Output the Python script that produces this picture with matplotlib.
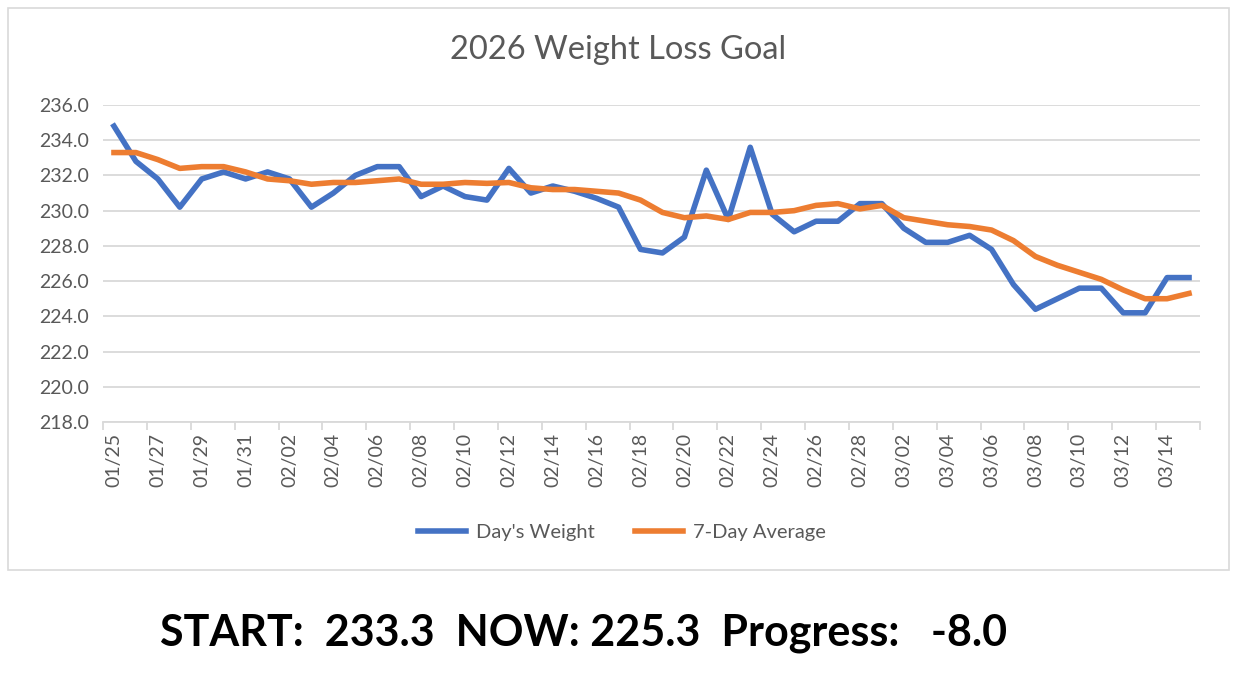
import matplotlib
matplotlib.use("Agg")
import matplotlib.pyplot as plt
from matplotlib import font_manager
from matplotlib.patches import Rectangle

dates = ["01/25","01/26","01/27","01/28","01/29","01/30","01/31",
         "02/01","02/02","02/03","02/04","02/05","02/06","02/07","02/08","02/09","02/10",
         "02/11","02/12","02/13","02/14","02/15","02/16","02/17","02/18","02/19","02/20",
         "02/21","02/22","02/23","02/24","02/25","02/26","02/27","02/28",
         "03/01","03/02","03/03","03/04","03/05","03/06","03/07","03/08","03/09","03/10",
         "03/11","03/12","03/13","03/14","03/15"]
days_weight = [234.8, 232.8, 231.8, 230.2, 231.8, 232.2, 231.8,
               232.2, 231.8, 230.2, 231.0, 232.0, 232.5, 232.5, 230.8, 231.4, 230.8,
               230.6, 232.4, 231.0, 231.4, 231.1, 230.7, 230.2, 227.8, 227.6, 228.5,
               232.3, 229.5, 233.6, 229.8, 228.8, 229.4, 229.4, 230.4,
               230.4, 229.0, 228.2, 228.2, 228.6, 227.8, 225.8, 224.4, 225.0, 225.6,
               225.6, 224.2, 224.2, 226.2, 226.2]
seven_day_avg = [233.3, 233.3, 232.9, 232.4, 232.5, 232.5, 232.2,
                 231.8, 231.7, 231.5, 231.6, 231.6, 231.7, 231.8, 231.5, 231.5, 231.6,
                 231.55, 231.6, 231.3, 231.2, 231.2, 231.1, 231.0, 230.6, 229.9, 229.6,
                 229.7, 229.5, 229.9, 229.9, 230.0, 230.3, 230.4, 230.1,
                 230.3, 229.6, 229.4, 229.2, 229.1, 228.9, 228.3, 227.4, 226.9, 226.5,
                 226.1, 225.5, 225.0, 225.0, 225.3]
y_ticks = [218.0, 220.0, 222.0, 224.0, 226.0, 228.0, 230.0, 232.0, 234.0, 236.0]
summary_text = "START:  233.3  NOW: 225.3  Progress:   -8.0"

avail = {f.name for f in font_manager.fontManager.ttflist}
base_font = "Lato" if "Lato" in avail else "DejaVu Sans"
plt.rcParams['font.family'] = [base_font, 'DejaVu Sans']

grey = "#595959"
grid_c = "#D9D9D9"

fig = plt.figure(figsize=(12.52, 6.85), dpi=100)
fig.patch.set_facecolor("white")
fig.patches.append(Rectangle((8/1252, 1-570/685), (1229-8)/1252, (570-8)/685,
                             transform=fig.transFigure, fill=False,
                             edgecolor=grid_c, linewidth=1.2))

ax = fig.add_axes([103/1252, 1-422/685, (1200-103)/1252, (422-105)/685])
x = list(range(len(dates)))
ax.plot(x, days_weight, color="#4472C4", lw=4.0, label="Day's Weight", solid_joinstyle="round")
ax.plot(x, seven_day_avg, color="#ED7D31", lw=4.0, label="7-Day Average", solid_joinstyle="round")

ax.set_xlim(-0.5, len(dates) - 0.5)
ax.set_ylim(218, 236)
ax.set_yticks(y_ticks)
ax.set_yticklabels([f"{v:.1f}" for v in y_ticks], color=grey, fontsize=14)
ax.tick_params(axis='y', length=0, pad=10)
ax.grid(axis='y', color=grid_c, lw=1.3)
ax.set_axisbelow(True)

ax.set_xticks([i for i in x if i % 2 == 0])
ax.set_xticklabels([dates[i] for i in x if i % 2 == 0], rotation=90, color=grey, fontsize=14)
ax.set_xticks([i - 0.5 for i in range(0, len(dates) + 1, 2)], minor=True)
ax.tick_params(axis='x', which='major', length=0, pad=8)
ax.tick_params(axis='x', which='minor', length=6, color=grid_c, width=1.3)

for s in ['top', 'right', 'left']:
    ax.spines[s].set_visible(False)
ax.spines['bottom'].set_color(grid_c)
ax.spines['bottom'].set_linewidth(1.3)

fig.text(618/1252, 1-50/685, "2026 Weight Loss Goal", color=grey, fontsize=23.5,
         ha='center', va='center')

fig.legend(loc='center', bbox_to_anchor=(622/1252, 1-532/685), ncol=2, frameon=False,
           fontsize=14.5, labelcolor=grey, handlelength=2.4, columnspacing=2.0,
           handletextpad=0.5)

fig.text(584/1252, 1-633/685, summary_text, ha='center', va='center',
         fontsize=31, fontweight='bold', color='black')

fig.savefig("out.png", dpi=100, facecolor="white")
